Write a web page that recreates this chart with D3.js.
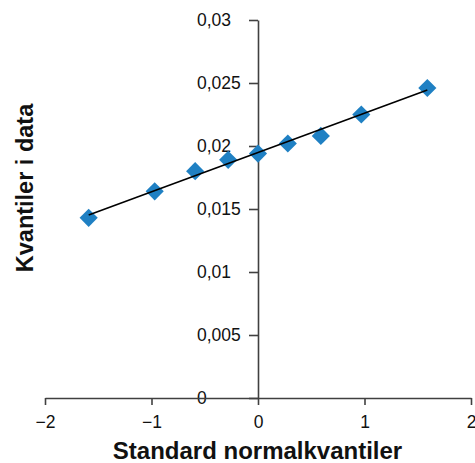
<!DOCTYPE html>
<html>
<head>
<meta charset="utf-8">
<script src="https://cdn.jsdelivr.net/npm/d3@7"></script>
<style>
  body { margin: 0; background: #fff; }
  svg text { font-family: "Liberation Sans", Arial, sans-serif; }
</style>
</head>
<body>
<div id="chart"></div>
<script>
// theoretical normal quantiles (x) and sample quantiles (y)
const normalQ = [-1.59, -0.97, -0.59, -0.28, 0, 0.28, 0.59, 0.97, 1.59]
const dataQ = [0.0143, 0.0164, 0.0180, 0.0189, 0.0194, 0.0202, 0.0208, 0.0225, 0.0246]
// fitted reference line end points
const lineX = [-1.59, 1.59]
const lineY = [0.01452, 0.02444]
const xTicks = [-2, -1, 0, 1, 2]
const yTicks = [0, 0.005, 0.01, 0.015, 0.02, 0.025, 0.03]

const width = 475, height = 463

const svg = d3.select('#chart')
    .append('svg')
    .attr('width', width)
    .attr('height', height)

const x = d3.scaleLinear().domain([-2, 2]).range([45, 471])
const y = d3.scaleLinear().domain([0, 0.03]).range([398, 20])

const nb = d3.formatLocale({ decimal: ",", thousands: " ", grouping: [3], currency: ["", ""] })
const yFmt = nb.format("~g")

const axisColor = "#404040"

// y axis sits at x = 0
const gy = svg.append("g")
    .attr("transform", `translate(${x(0)},0)`)
    .call(d3.axisLeft(y).tickValues(yTicks).tickFormat(yFmt).tickSize(9).tickSizeOuter(0))
gy.selectAll("text")
    .attr("text-anchor", "start")
    .attr("x", 197 - x(0))
    .attr("font-size", 17.5)
    .attr("fill", "#111")

// x axis sits at y = 0
const gx = svg.append("g")
    .attr("transform", `translate(0,${y(0)})`)
    .call(d3.axisBottom(x).tickValues(xTicks).tickFormat(d3.format("d")).tickSize(7).tickPadding(11).tickSizeOuter(0))
gx.selectAll("text")
    .attr("font-size", 17.5)
    .attr("fill", "#111")

svg.selectAll(".domain, .tick line")
    .attr("stroke", axisColor)
    .attr("stroke-width", 1.6)
svg.selectAll(".domain").attr("fill", "none")

// markers
const pts = normalQ.map((v, i) => ({ x: v, y: dataQ[i] }))
svg.append("g")
    .selectAll("path")
    .data(pts)
    .join("path")
    .attr("d", d3.symbol(d3.symbolSquare, 165))
    .attr("transform", d => `translate(${x(d.x)},${y(d.y)}) rotate(45)`)
    .attr("fill", "#1f80c3")

// reference line
svg.append("path")
    .datum(lineX.map((v, i) => ({ x: v, y: lineY[i] })))
    .attr("fill", "none")
    .attr("stroke", "#000")
    .attr("stroke-width", 1.6)
    .attr("d", d3.line().x(d => x(d.x)).y(d => y(d.y)))

// axis titles
svg.append("text")
    .attr("x", 257.5)
    .attr("y", 459)
    .attr("text-anchor", "middle")
    .attr("font-size", 24)
    .attr("font-weight", "bold")
    .attr("fill", "#111")
    .text("Standard normalkvantiler")

svg.append("text")
    .attr("transform", "translate(33,188) rotate(-90)")
    .attr("text-anchor", "middle")
    .attr("font-size", 23.5)
    .attr("font-weight", "bold")
    .attr("fill", "#111")
    .text("Kvantiler i data")
</script>
</body>
</html>
